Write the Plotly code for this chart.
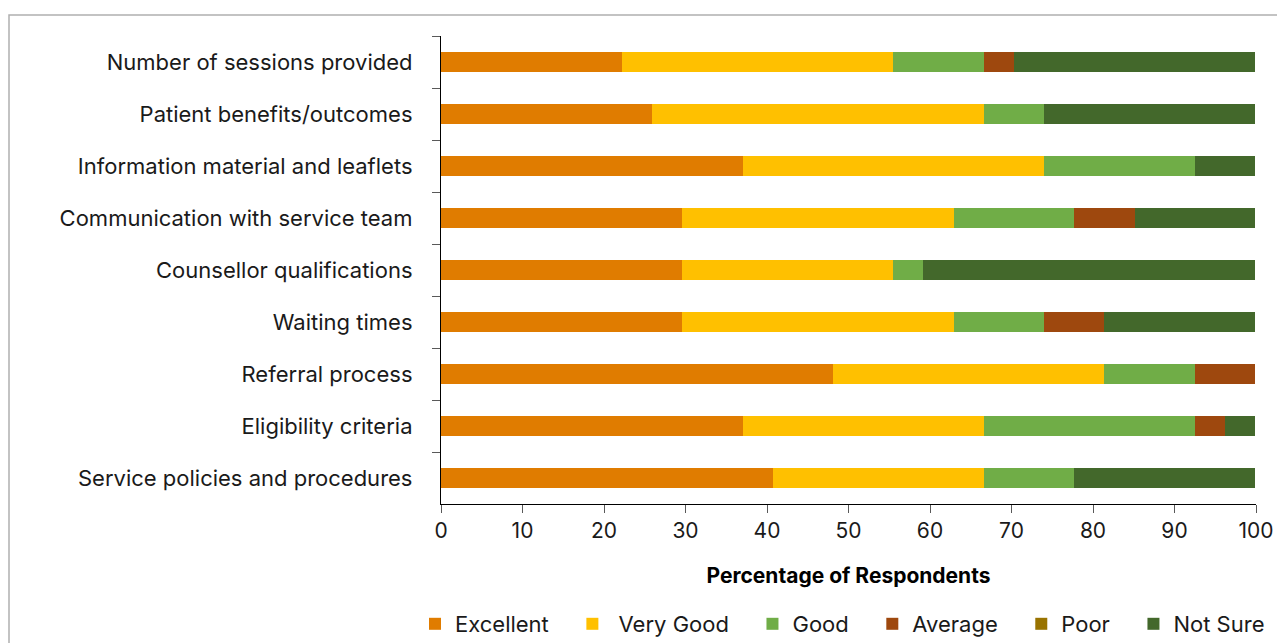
import plotly.graph_objects as go

categories = [
    "Number of sessions provided",
    "Patient benefits/outcomes",
    "Information material and leaflets",
    "Communication with service team",
    "Counsellor qualifications",
    "Waiting times",
    "Referral process",
    "Eligibility criteria",
    "Service policies and procedures",
]

excellent = [22.2, 25.9, 37.0, 29.6, 29.6, 29.6, 48.1, 37.0, 40.7]
very_good = [33.3, 40.7, 37.0, 33.3, 25.9, 33.3, 33.3, 29.6, 25.9]
good      = [11.1, 7.4, 18.5, 14.8, 3.7, 11.1, 11.1, 25.9, 11.1]
average   = [3.7, 0, 0, 7.4, 0, 7.4, 7.4, 3.7, 0]
poor      = [0, 0, 0, 0, 0, 0, 0, 0, 0]
not_sure  = [29.6, 25.9, 7.4, 14.8, 40.7, 18.5, 0, 3.7, 22.2]

series_names = ["Excellent", "\u00a0Very Good", "Good", "Average", "Poor", "Not Sure"]
series_values = [excellent, very_good, good, average, poor, not_sure]
series_colors = ["#E07C00", "#FFC000", "#70AD47", "#9E480E", "#997300", "#43682B"]

x_ticks = [0, 10, 20, 30, 40, 50, 60, 70, 80, 90, 100]

FONT = "Inter"
PAD = "\u00a0\u00a0\u00a0"

fig = go.Figure()
for name, vals, col in zip(series_names, series_values, series_colors):
    fig.add_trace(go.Bar(
        y=categories, x=vals, name=name + PAD, orientation="h",
        marker=dict(color=col, line=dict(width=0)),
    ))

# page body has an 8px margin, so the figure is placed at (8, 8)
fig.update_layout(
    barmode="stack",
    bargap=0.6,
    width=1277, height=635,
    margin=dict(l=433, r=29, t=28, b=139, autoexpand=False),
    paper_bgcolor="white", plot_bgcolor="white",
    font=dict(family=FONT, size=21, color="#1a1a1a"),
    showlegend=True,
    legend=dict(
        orientation="h", x=(407 - 433) / 815, xanchor="left",
        y=-120 / 468, yanchor="middle",
        font=dict(family=FONT, size=22, color="#1a1a1a"),
        traceorder="normal", itemwidth=30,
    ),
    xaxis=dict(
        range=[0, 100], tickvals=x_ticks, showgrid=False, zeroline=False,
        showline=True, linecolor="#000000", linewidth=1.2, automargin=False,
        ticks="outside", ticklen=8, tickcolor="#595959",
        tickfont=dict(size=21), ticklabelstandoff=0,
        title=dict(text="<b>Percentage of Respondents</b>", font=dict(size=21, color="#000000"), standoff=26),
    ),
    yaxis=dict(
        autorange="reversed", showgrid=False, zeroline=False,
        showline=True, linecolor="#000000", linewidth=1.2, automargin=False,
        ticks="outside", ticklen=8, tickcolor="#595959", tickson="boundaries",
        tickfont=dict(size=22), ticklabelstandoff=23,
    ),
    shapes=[dict(
        type="rect", xref="paper", yref="paper",
        x0=(9 - 441) / 815, x1=1.2, y0=-0.6, y1=(504 - 15) / 468,
        line=dict(color="#B0B0B0", width=1.5), fillcolor="rgba(0,0,0,0)", layer="below",
    )],
)

fig.write_html("out.html")
